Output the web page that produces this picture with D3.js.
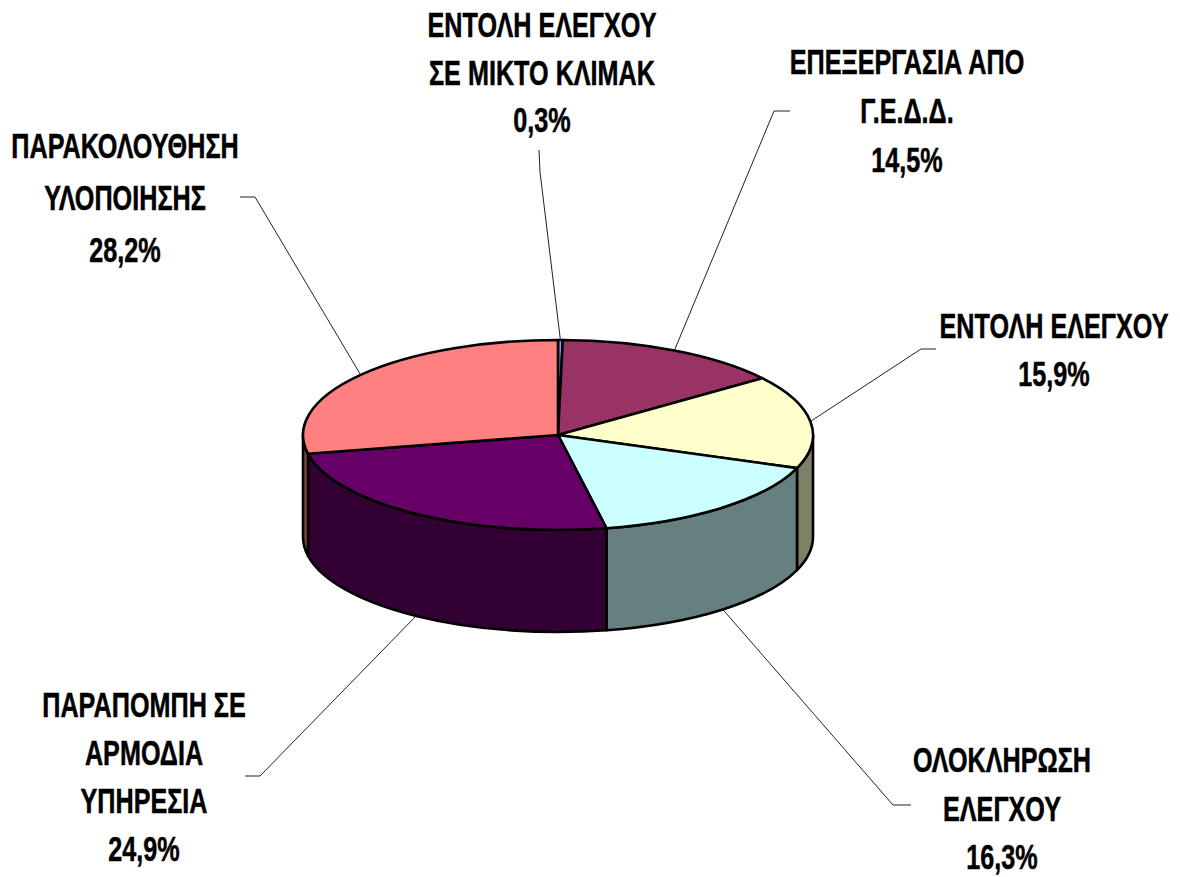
<!DOCTYPE html>
<html><head><meta charset="utf-8">
<script src="https://cdn.jsdelivr.net/npm/d3@7"></script>
<style>html,body{margin:0;padding:0;background:#fff}svg{display:block}</style>
</head><body><svg id="c" width="1180" height="877"></svg>
<script>
const labels = [
  ["ΕΝΤΟΛΗ ΕΛΕΓΧΟΥ","ΣΕ ΜΙΚΤΟ ΚΛΙΜΑΚ"],
  ["ΕΠΕΞΕΡΓΑΣΙΑ ΑΠΟ","Γ.Ε.Δ.Δ."],
  ["ΕΝΤΟΛΗ ΕΛΕΓΧΟΥ"],
  ["ΟΛΟΚΛΗΡΩΣΗ","ΕΛΕΓΧΟΥ"],
  ["ΠΑΡΑΠΟΜΠΗ ΣΕ","ΑΡΜΟΔΙΑ","ΥΠΗΡΕΣΙΑ"],
  ["ΠΑΡΑΚΟΛΟΥΘΗΣΗ","ΥΛΟΠΟΙΗΣΗΣ"]
];
const values = [0.3,14.5,15.9,16.3,24.9,28.2];
const valueText = ["0,3%","14,5%","15,9%","16,3%","24,9%","28,2%"];
const topColors = ["#9999ff","#993366","#ffffcc","#ccffff","#660066","#ff8080"];
const sideColors = ["#4d4d80","#4d1a33","#808066","#668080","#330033","#804040"];
// label placement: centre x, first baseline y, line gap
const labelX = [542,907,1054,1002,144,125];
const labelY = [37,74,338,772,717,158];
const lineGap = [47.5,49,48,48.5,48,52];
// leader elbow: [outer end x, elbow x, elbow y]
const leaderElbow = [[539,540,172],[790,774,111],[936,921,349],[911,893,805],[245,260,776],[240,255,197]];
const leaderBottom = [false,false,false,true,true,false];

const cx=558, cy=435, rx=255, ry=95, depth=102;
const svg=d3.select("#c");
const pie=d3.pie().sort(null).value(d=>d)(values);
const px=a=>cx+rx*Math.sin(a), py=a=>cy-ry*Math.cos(a);

// side walls (front half only)
const g=svg.append("g");
const hi=Math.PI/2, lo=3*Math.PI/2;
pie.forEach((s,i)=>{
  const a0=Math.max(s.startAngle,hi), a1=Math.min(s.endAngle,lo);
  if(a1<=a0) return;
  const d=`M${px(a0)},${py(a0)}A${rx},${ry} 0 0 1 ${px(a1)},${py(a1)}L${px(a1)},${py(a1)+depth}A${rx},${ry} 0 0 0 ${px(a0)},${py(a0)+depth}Z`;
  g.append("path").attr("d",d).attr("fill",sideColors[i]).attr("stroke","#000").attr("stroke-width",2.6).attr("stroke-linejoin","round");
});

// top face
const arc=d3.arc().innerRadius(0).outerRadius(rx);
svg.append("g").attr("transform",`translate(${cx},${cy}) scale(1,${ry/rx})`)
  .selectAll("path").data(pie).join("path")
  .attr("d",arc).attr("fill",(d,i)=>topColors[i])
  .attr("stroke","#000").attr("stroke-width",2.6).attr("stroke-linejoin","round")
  .attr("vector-effect","non-scaling-stroke");

// leaders
pie.forEach((s,i)=>{
  const m=(s.startAngle+s.endAngle)/2, e=leaderElbow[i];
  const pts=[[e[0],i==0?150:e[2]],[e[1],e[2]],[px(m),py(m)+(leaderBottom[i]?depth:0)]];
  svg.append("path").attr("d",d3.line()(pts)).attr("fill","none").attr("stroke","#222").attr("stroke-width",1);
});

// labels
const sx=0.70;
labels.forEach((ls,i)=>{
  const all=ls.concat([valueText[i]]);
  all.forEach((t,j)=>{
    svg.append("text").text(t)
      .attr("transform",`translate(${labelX[i]},${labelY[i]+j*lineGap[i]}) scale(${sx},1)`)
      .attr("text-anchor","middle")
      .attr("font-family","'Liberation Sans',Arial,sans-serif")
      .attr("font-weight","bold").attr("font-size",36).attr("fill","#000")
      .attr("stroke","#000").attr("stroke-width",0.5);
  });
});
</script></body></html>
